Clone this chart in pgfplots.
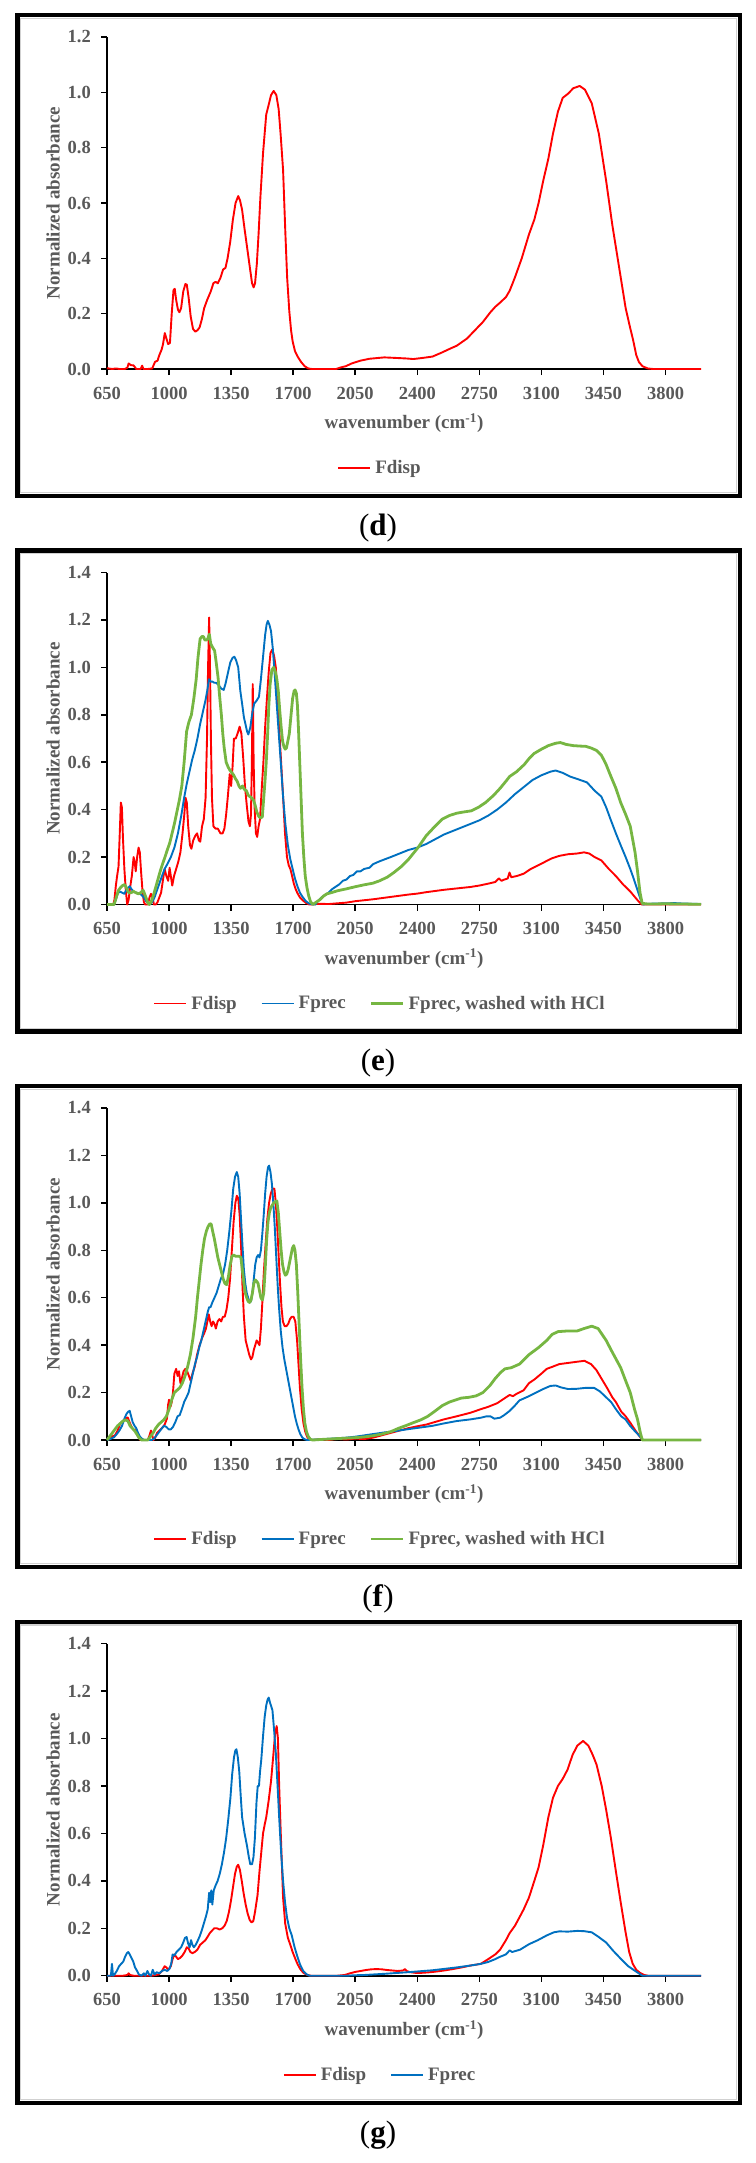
\documentclass[border=0pt]{standalone}
\usepackage{fontspec}
\setmainfont{Liberation Serif}
\usepackage{pgfplots}
\pgfplotsset{compat=1.18}

\definecolor{labgray}{HTML}{595959}
\definecolor{cRed}{RGB}{255,0,0}
\definecolor{cBlue}{RGB}{0,112,192}
\definecolor{cGreen}{RGB}{118,182,66}

\newcommand\tickfont{\fontsize{18.5}{20}\selectfont\bfseries}
\newcommand\labfont{\fontsize{19}{22}\selectfont\bfseries}
\newcommand\capfont{\fontsize{31}{34}\selectfont}

\pgfplotsset{
  panel/.style={
    scale only axis, width=594pt, height=332pt,
    anchor=south west,
    xmin=650, xmax=4000, ymin=0,
    axis x line=bottom, axis y line=left,
    axis line style={-, line width=1.8pt, black},
    tick align=outside, major tick length=6pt,
    tick style={line width=1.5pt, black},
    xtick={650,1000,1350,1700,2050,2400,2750,3100,3450,3800},
    xticklabels={650,1000,1350,1700,2050,2400,2750,3100,3450,3800},
    ticklabel style={font=\tickfont, text=labgray},
    xticklabel style={anchor=base, yshift=-24pt},
    yticklabel style={anchor=east, inner sep=0pt, xshift=-10pt},
    xlabel={wavenumber (cm\textsuperscript{-1})},
    ylabel={Normalized absorbance},
    label style={font=\labfont, text=labgray},
    xlabel style={at={(axis description cs:0.5,-0.163)}, anchor=center},
    ylabel style={at={(axis description cs:-0.0909,0.5)}, anchor=center},
    legend style={at={(axis description cs:0.458,-0.298)}, anchor=center,
      draw=none, fill=none, legend columns=-1, font=\labfont, text=labgray,
      nodes={inner sep=0pt},
      /tikz/every odd column/.append style={column sep=4pt},
      /tikz/every even column/.append style={column sep=24pt}},
    legend image code/.code={\draw[##1] (0pt,0pt) -- (32pt,0pt);},
    clip=false,
  },
  fdisp/.style={cRed, line width=1.9pt, line join=round},
  fprec/.style={cBlue, line width=1.9pt, line join=round},
  fhcl/.style={cGreen, line width=2.8pt, line join=round},
}

\begin{document}
\begin{tikzpicture}
\path[use as bounding box] (0pt,0pt) rectangle (755pt,-2163pt);

% ---------- frames and captions ----------
\foreach \T/\B/\C/\L in {15/496/528/d, 550.5/1031.5/1063.5/e, 1086/1567/1599/f, 1621.7/2102.7/2134.7/g}{
  \draw[line width=1.2pt, black!18] (20.8pt,-\T pt-3.3pt) rectangle (736.8pt,-\B pt+3.3pt);
  \draw[line width=4.2pt] (17.5pt,-\T pt) rectangle (740pt,-\B pt);
  \node[font=\capfont, anchor=center] at (378pt,-\C pt) {(\textbf{\L})};
}

% ---------- (d) ----------
\begin{axis}[panel, at={(107pt,-369pt)}, ymax=1.2,
  ytick={0,0.2,0.4,0.6,0.8,1.0,1.2},
  yticklabels={0.0,0.2,0.4,0.6,0.8,1.0,1.2}]
\addplot[fdisp] coordinates {
(650,0.003)(680,0.0)(700,0.002)(720,0.0)(750,0.0)(765,0.005)(772,0.02)(785,0.014)(800,0.013)(815,0.0)(840,0.0)(848,0.012)(856,0.0)(880,0.0)(905,0.002)(921,0.026)(935,0.03)(945,0.05)(958,0.07)(966,0.09)(976,0.13)(985,0.11)(995,0.09)(1005,0.094)(1015,0.2)(1025,0.285)(1032,0.29)(1040,0.25)(1050,0.215)(1058,0.205)(1068,0.22)(1080,0.28)(1092,0.307)(1100,0.305)(1110,0.26)(1122,0.19)(1135,0.145)(1148,0.135)(1160,0.14)(1172,0.15)(1185,0.18)(1198,0.22)(1215,0.25)(1235,0.28)(1250,0.31)(1262,0.315)(1275,0.31)(1290,0.33)(1305,0.36)(1318,0.365)(1330,0.4)(1345,0.46)(1360,0.54)(1375,0.6)(1390,0.625)(1400,0.61)(1412,0.575)(1425,0.51)(1440,0.44)(1455,0.37)(1468,0.31)(1477,0.295)(1485,0.31)(1495,0.38)(1505,0.49)(1515,0.62)(1530,0.78)(1548,0.92)(1560,0.95)(1575,0.99)(1590,1.005)(1605,0.99)(1618,0.94)(1629,0.85)(1643,0.72)(1656,0.49)(1666,0.33)(1678,0.21)(1688,0.14)(1697,0.1)(1710,0.065)(1725,0.045)(1745,0.025)(1765,0.01)(1785,0.002)(1805,0.0)(1850,0.0)(1900,0.0)(1942,0.0)(1970,0.006)(1996,0.01)(2030,0.02)(2078,0.03)(2130,0.037)(2214,0.042)(2280,0.04)(2340,0.038)(2377,0.036)(2430,0.04)(2486,0.045)(2540,0.06)(2590,0.075)(2622,0.084)(2680,0.11)(2731,0.144)(2770,0.17)(2812,0.205)(2840,0.225)(2867,0.24)(2900,0.26)(2921,0.283)(2950,0.33)(2989,0.4)(3030,0.487)(3060,0.54)(3084,0.6)(3110,0.68)(3139,0.76)(3165,0.85)(3193,0.93)(3220,0.98)(3250,0.995)(3280,1.015)(3316,1.023)(3345,1.01)(3384,0.96)(3424,0.85)(3465,0.68)(3500,0.52)(3540,0.36)(3575,0.22)(3600,0.15)(3617,0.105)(3635,0.05)(3650,0.025)(3670,0.01)(3700,0.002)(3730,0)(4000,0)
};
\addlegendentry{Fdisp}
\end{axis}

% ---------- (e) ----------
\begin{axis}[panel, at={(107pt,-904.5pt)}, ymax=1.4,
  ytick={0,0.2,0.4,0.6,0.8,1.0,1.2,1.4},
  yticklabels={0.0,0.2,0.4,0.6,0.8,1.0,1.2,1.4}]
\addplot[fdisp] coordinates {
(650,0)(685,0)(692,0.02)(700,0.08)(707,0.12)(715,0.16)(722,0.3)(728,0.43)(734,0.41)(740,0.28)(748,0.15)(756,0.06)(764,0.0)(772,0.02)(780,0.07)(790,0.12)(800,0.2)(806,0.18)(812,0.14)(820,0.2)(828,0.24)(835,0.22)(842,0.14)(850,0.06)(858,0.01)(866,0)(880,0)(890,0.03)(898,0.045)(906,0.03)(915,0)(925,0)(935,0.01)(945,0.03)(955,0.05)(965,0.1)(975,0.15)(985,0.12)(995,0.1)(1003,0.155)(1010,0.12)(1018,0.08)(1028,0.12)(1040,0.15)(1052,0.18)(1064,0.22)(1076,0.3)(1086,0.38)(1093,0.45)(1100,0.43)(1108,0.33)(1118,0.25)(1126,0.235)(1136,0.27)(1148,0.29)(1158,0.3)(1168,0.27)(1176,0.265)(1186,0.33)(1196,0.36)(1206,0.45)(1214,0.7)(1220,1.0)(1226,1.21)(1231,1.0)(1236,0.7)(1242,0.45)(1250,0.33)(1262,0.32)(1275,0.32)(1290,0.3)(1302,0.3)(1312,0.32)(1322,0.38)(1332,0.46)(1342,0.55)(1350,0.5)(1358,0.58)(1366,0.7)(1376,0.7)(1386,0.72)(1398,0.75)(1408,0.72)(1418,0.62)(1428,0.5)(1438,0.42)(1448,0.35)(1456,0.33)(1462,0.38)(1467,0.6)(1472,0.93)(1477,0.6)(1483,0.4)(1490,0.3)(1497,0.285)(1505,0.33)(1513,0.36)(1522,0.48)(1532,0.6)(1542,0.75)(1552,0.87)(1562,0.98)(1572,1.06)(1582,1.075)(1592,1.05)(1602,1.0)(1612,0.88)(1621,0.74)(1632,0.6)(1643,0.455)(1654,0.3)(1665,0.2)(1675,0.165)(1684,0.15)(1694,0.12)(1703,0.09)(1714,0.065)(1724,0.048)(1738,0.03)(1752,0.019)(1770,0.008)(1790,0)(1850,0.003)(1900,0.002)(1950,0.005)(2000,0.008)(2050,0.014)(2100,0.018)(2150,0.022)(2200,0.027)(2250,0.032)(2300,0.037)(2350,0.042)(2400,0.046)(2450,0.052)(2500,0.057)(2550,0.062)(2600,0.066)(2650,0.07)(2700,0.074)(2750,0.08)(2800,0.088)(2840,0.095)(2860,0.11)(2875,0.1)(2890,0.105)(2910,0.11)(2920,0.135)(2930,0.115)(2960,0.12)(3000,0.13)(3040,0.15)(3080,0.165)(3120,0.18)(3160,0.195)(3200,0.205)(3250,0.212)(3300,0.215)(3340,0.22)(3370,0.215)(3400,0.2)(3438,0.186)(3480,0.15)(3520,0.12)(3560,0.085)(3601,0.055)(3640,0.02)(3665,0)(4000,0)
};
\addlegendentry{Fdisp}
\addplot[fprec] coordinates {
(650,0)(690,0)(700,0.02)(710,0.045)(720,0.055)(735,0.05)(748,0.045)(758,0.06)(768,0.07)(778,0.077)(788,0.065)(800,0.055)(815,0.05)(830,0.048)(845,0.04)(858,0.03)(870,0.015)(882,0.005)(892,0)(905,0.01)(918,0.03)(932,0.06)(946,0.09)(960,0.12)(975,0.15)(990,0.17)(1010,0.2)(1030,0.24)(1050,0.3)(1070,0.38)(1085,0.45)(1100,0.51)(1115,0.56)(1130,0.61)(1145,0.65)(1160,0.7)(1175,0.76)(1190,0.81)(1205,0.86)(1215,0.9)(1225,0.95)(1235,0.94)(1245,0.94)(1255,0.935)(1265,0.935)(1280,0.925)(1295,0.91)(1308,0.905)(1318,0.93)(1330,0.97)(1345,1.02)(1358,1.04)(1368,1.045)(1378,1.03)(1390,1.0)(1402,0.9)(1412,0.847)(1422,0.79)(1431,0.76)(1440,0.73)(1447,0.717)(1458,0.746)(1468,0.8)(1480,0.847)(1494,0.86)(1507,0.876)(1518,0.95)(1529,1.036)(1542,1.138)(1550,1.18)(1557,1.196)(1566,1.18)(1575,1.153)(1585,1.08)(1594,0.99)(1605,0.87)(1616,0.75)(1630,0.6)(1643,0.455)(1656,0.34)(1670,0.25)(1684,0.19)(1697,0.15)(1710,0.11)(1724,0.077)(1738,0.05)(1752,0.033)(1770,0.015)(1790,0.004)(1810,0)(1825,0.0)(1840,0.015)(1860,0.03)(1880,0.04)(1900,0.05)(1920,0.065)(1940,0.075)(1960,0.085)(1980,0.1)(2000,0.105)(2020,0.12)(2040,0.125)(2060,0.14)(2080,0.14)(2100,0.15)(2130,0.155)(2150,0.17)(2180,0.18)(2214,0.19)(2250,0.2)(2300,0.215)(2350,0.23)(2400,0.24)(2450,0.255)(2500,0.275)(2550,0.295)(2600,0.31)(2650,0.325)(2700,0.34)(2750,0.355)(2800,0.375)(2850,0.4)(2900,0.43)(2950,0.465)(3000,0.495)(3050,0.525)(3100,0.545)(3150,0.56)(3180,0.565)(3220,0.555)(3260,0.54)(3300,0.53)(3357,0.515)(3400,0.48)(3438,0.455)(3465,0.41)(3492,0.355)(3520,0.3)(3547,0.25)(3575,0.2)(3601,0.15)(3620,0.11)(3642,0.06)(3660,0.02)(3672,0.0)(3700,0.003)(3750,0.004)(3800,0.005)(3850,0.006)(3900,0.004)(4000,0.002)
};
\addlegendentry{Fprec}
\addplot[fhcl] coordinates {
(650,0)(690,0)(698,0.02)(706,0.04)(715,0.06)(725,0.07)(738,0.08)(750,0.084)(760,0.07)(772,0.05)(786,0.05)(800,0.055)(812,0.05)(827,0.045)(840,0.05)(854,0.06)(862,0.045)(872,0.025)(880,0.008)(888,0)(898,0.01)(908,0.03)(920,0.06)(935,0.1)(950,0.14)(963,0.17)(977,0.2)(990,0.23)(1004,0.26)(1017,0.3)(1030,0.34)(1044,0.39)(1058,0.44)(1072,0.5)(1085,0.6)(1099,0.73)(1112,0.77)(1126,0.8)(1140,0.87)(1153,0.95)(1163,1.04)(1175,1.12)(1185,1.13)(1194,1.13)(1202,1.115)(1210,1.115)(1218,1.12)(1227,1.14)(1235,1.1)(1245,1.085)(1257,1.07)(1266,1.02)(1276,0.96)(1285,0.88)(1295,0.8)(1303,0.72)(1311,0.66)(1322,0.6)(1333,0.58)(1344,0.565)(1355,0.555)(1365,0.545)(1375,0.53)(1384,0.52)(1394,0.5)(1403,0.49)(1414,0.5)(1425,0.485)(1436,0.48)(1447,0.46)(1456,0.455)(1466,0.45)(1476,0.44)(1485,0.42)(1495,0.39)(1507,0.37)(1518,0.365)(1526,0.37)(1534,0.45)(1541,0.52)(1548,0.6)(1556,0.72)(1562,0.83)(1570,0.93)(1580,0.99)(1590,1.0)(1600,0.98)(1608,0.95)(1616,0.9)(1624,0.82)(1632,0.75)(1640,0.69)(1648,0.665)(1655,0.655)(1662,0.66)(1670,0.69)(1678,0.72)(1688,0.8)(1697,0.87)(1705,0.9)(1711,0.905)(1718,0.89)(1724,0.84)(1731,0.72)(1738,0.58)(1745,0.44)(1752,0.3)(1760,0.2)(1768,0.12)(1778,0.07)(1788,0.035)(1798,0.012)(1811,0)(1830,0.01)(1850,0.02)(1870,0.035)(1890,0.045)(1915,0.05)(1950,0.058)(2000,0.066)(2050,0.075)(2100,0.083)(2150,0.09)(2187,0.1)(2230,0.115)(2268,0.135)(2310,0.16)(2350,0.19)(2404,0.24)(2450,0.29)(2500,0.33)(2541,0.36)(2580,0.375)(2622,0.385)(2660,0.39)(2704,0.395)(2745,0.41)(2785,0.43)(2830,0.46)(2867,0.49)(2900,0.52)(2921,0.54)(2960,0.56)(3003,0.59)(3030,0.615)(3057,0.636)(3100,0.655)(3139,0.67)(3180,0.68)(3207,0.683)(3240,0.675)(3280,0.67)(3320,0.668)(3350,0.667)(3380,0.66)(3410,0.65)(3438,0.63)(3465,0.59)(3492,0.54)(3520,0.49)(3547,0.43)(3575,0.38)(3601,0.33)(3628,0.22)(3642,0.14)(3656,0.05)(3668,0.005)(3700,0.002)(3800,0.003)(3900,0.002)(4000,0.001)
};
\addlegendentry{Fprec, washed with HCl}
\end{axis}

% ---------- (f) ----------
\begin{axis}[panel, at={(107pt,-1440pt)}, ymax=1.4,
  ytick={0,0.2,0.4,0.6,0.8,1.0,1.2,1.4},
  yticklabels={0.0,0.2,0.4,0.6,0.8,1.0,1.2,1.4}]
\addplot[fdisp] coordinates {
(650,0)(665,0.005)(680,0.015)(695,0.02)(710,0.04)(725,0.07)(740,0.08)(755,0.09)(767,0.095)(780,0.07)(792,0.05)(805,0.04)(815,0.045)(825,0.02)(835,0.002)(850,0)(880,0)(890,0.02)(898,0.04)(905,0.02)(912,0)(922,0.01)(932,0.03)(945,0.04)(960,0.05)(975,0.065)(988,0.09)(995,0.15)(1000,0.17)(1008,0.14)(1015,0.16)(1022,0.2)(1030,0.28)(1040,0.3)(1048,0.27)(1056,0.29)(1064,0.24)(1072,0.26)(1082,0.29)(1092,0.3)(1102,0.29)(1112,0.27)(1122,0.25)(1132,0.28)(1145,0.31)(1158,0.36)(1172,0.4)(1186,0.43)(1198,0.45)(1208,0.47)(1216,0.5)(1224,0.53)(1232,0.5)(1240,0.48)(1248,0.5)(1256,0.49)(1264,0.47)(1274,0.5)(1284,0.51)(1294,0.5)(1304,0.52)(1314,0.52)(1324,0.55)(1334,0.6)(1344,0.68)(1354,0.8)(1364,0.92)(1374,1.0)(1382,1.03)(1390,1.02)(1398,0.95)(1406,0.82)(1414,0.65)(1422,0.52)(1432,0.42)(1442,0.39)(1452,0.36)(1462,0.34)(1470,0.35)(1478,0.38)(1486,0.4)(1494,0.42)(1502,0.41)(1510,0.4)(1518,0.47)(1526,0.58)(1534,0.7)(1544,0.82)(1554,0.93)(1564,1.0)(1574,1.04)(1584,1.06)(1594,1.06)(1602,1.0)(1610,0.9)(1618,0.78)(1626,0.66)(1634,0.56)(1642,0.5)(1652,0.48)(1662,0.48)(1672,0.49)(1682,0.51)(1692,0.52)(1702,0.52)(1712,0.5)(1722,0.42)(1730,0.32)(1738,0.22)(1748,0.13)(1758,0.07)(1768,0.035)(1778,0.015)(1790,0.002)(1810,0)(1850,0.003)(1900,0.0)(1950,0.005)(2000,0.002)(2050,0.006)(2100,0.004)(2150,0.01)(2200,0.02)(2250,0.03)(2300,0.04)(2350,0.05)(2400,0.058)(2450,0.065)(2486,0.073)(2550,0.087)(2622,0.1)(2700,0.115)(2758,0.13)(2800,0.14)(2850,0.155)(2880,0.17)(2900,0.18)(2921,0.19)(2940,0.185)(2960,0.195)(3000,0.21)(3030,0.24)(3060,0.255)(3100,0.28)(3130,0.3)(3166,0.31)(3200,0.32)(3250,0.325)(3300,0.33)(3343,0.334)(3380,0.32)(3410,0.295)(3438,0.26)(3470,0.22)(3500,0.18)(3520,0.16)(3550,0.12)(3575,0.1)(3601,0.073)(3630,0.04)(3655,0.015)(3669,0)(4000,0)
};
\addlegendentry{Fdisp}
\addplot[fprec] coordinates {
(650,0)(670,0.005)(690,0.012)(705,0.025)(720,0.04)(735,0.06)(748,0.09)(760,0.11)(770,0.12)(778,0.123)(786,0.1)(795,0.075)(805,0.06)(815,0.05)(825,0.03)(835,0.015)(848,0.005)(860,0)(900,0)(915,0.005)(930,0.02)(945,0.035)(960,0.05)(972,0.06)(985,0.055)(998,0.045)(1010,0.045)(1022,0.055)(1035,0.075)(1048,0.1)(1060,0.105)(1072,0.13)(1085,0.16)(1098,0.18)(1110,0.2)(1122,0.24)(1134,0.28)(1146,0.32)(1158,0.35)(1170,0.39)(1182,0.42)(1194,0.46)(1206,0.5)(1218,0.54)(1226,0.56)(1234,0.56)(1244,0.58)(1256,0.6)(1268,0.62)(1280,0.65)(1292,0.68)(1304,0.7)(1316,0.74)(1328,0.8)(1340,0.88)(1352,0.97)(1362,1.06)(1372,1.11)(1382,1.13)(1390,1.11)(1398,1.04)(1406,0.93)(1414,0.82)(1422,0.72)(1430,0.66)(1438,0.62)(1446,0.6)(1454,0.58)(1462,0.585)(1470,0.62)(1478,0.68)(1486,0.74)(1494,0.77)(1502,0.78)(1510,0.77)(1518,0.8)(1526,0.87)(1534,0.95)(1542,1.04)(1550,1.11)(1558,1.15)(1564,1.157)(1572,1.13)(1580,1.08)(1588,1.0)(1596,0.9)(1604,0.78)(1612,0.66)(1620,0.56)(1630,0.46)(1640,0.39)(1650,0.34)(1660,0.3)(1670,0.26)(1680,0.22)(1690,0.18)(1700,0.14)(1710,0.1)(1720,0.07)(1730,0.045)(1740,0.025)(1752,0.01)(1765,0.003)(1780,0)(1850,0.003)(1900,0.005)(1942,0.007)(2000,0.01)(2050,0.014)(2078,0.017)(2150,0.025)(2214,0.032)(2280,0.038)(2350,0.046)(2420,0.053)(2486,0.06)(2550,0.07)(2622,0.08)(2700,0.087)(2758,0.094)(2790,0.1)(2812,0.1)(2835,0.09)(2850,0.092)(2867,0.094)(2890,0.105)(2921,0.123)(2950,0.145)(2976,0.167)(3000,0.175)(3030,0.185)(3070,0.2)(3110,0.215)(3150,0.228)(3180,0.23)(3210,0.222)(3250,0.215)(3300,0.216)(3350,0.22)(3397,0.22)(3430,0.205)(3465,0.18)(3493,0.16)(3520,0.13)(3550,0.1)(3574,0.087)(3600,0.06)(3630,0.035)(3656,0.015)(3672,0)(4000,0)
};
\addlegendentry{Fprec}
\addplot[fhcl] coordinates {
(650,0)(665,0.015)(680,0.03)(695,0.045)(710,0.06)(725,0.07)(740,0.08)(755,0.085)(768,0.08)(780,0.06)(792,0.05)(805,0.04)(818,0.025)(830,0.01)(845,0)(880,0)(895,0.015)(910,0.03)(925,0.05)(940,0.065)(955,0.075)(970,0.085)(985,0.1)(1000,0.13)(1015,0.17)(1030,0.2)(1045,0.21)(1060,0.22)(1075,0.24)(1090,0.27)(1105,0.31)(1120,0.36)(1135,0.43)(1150,0.52)(1160,0.6)(1170,0.67)(1180,0.74)(1190,0.8)(1200,0.85)(1210,0.88)(1220,0.9)(1230,0.912)(1238,0.91)(1246,0.88)(1255,0.85)(1265,0.81)(1275,0.77)(1285,0.74)(1295,0.71)(1305,0.68)(1315,0.66)(1325,0.655)(1335,0.69)(1345,0.74)(1355,0.775)(1365,0.78)(1375,0.775)(1385,0.775)(1395,0.775)(1405,0.77)(1413,0.72)(1422,0.66)(1430,0.62)(1438,0.6)(1446,0.585)(1454,0.58)(1462,0.59)(1470,0.62)(1478,0.66)(1486,0.675)(1494,0.67)(1502,0.66)(1510,0.63)(1518,0.6)(1526,0.59)(1534,0.62)(1542,0.72)(1550,0.84)(1558,0.92)(1566,0.96)(1574,0.98)(1582,0.99)(1590,1.0)(1600,1.005)(1608,1.008)(1616,0.96)(1624,0.88)(1632,0.8)(1640,0.74)(1648,0.71)(1656,0.695)(1664,0.7)(1672,0.72)(1680,0.75)(1688,0.78)(1696,0.81)(1703,0.82)(1710,0.8)(1718,0.74)(1726,0.62)(1734,0.48)(1742,0.34)(1750,0.22)(1758,0.13)(1766,0.07)(1775,0.035)(1785,0.015)(1797,0.003)(1810,0)(1850,0.002)(1900,0.004)(1950,0.006)(2000,0.008)(2050,0.01)(2100,0.013)(2150,0.018)(2200,0.025)(2250,0.035)(2296,0.05)(2340,0.062)(2377,0.073)(2420,0.085)(2459,0.1)(2500,0.122)(2541,0.145)(2580,0.16)(2620,0.17)(2649,0.177)(2690,0.18)(2731,0.186)(2770,0.2)(2810,0.23)(2840,0.26)(2870,0.285)(2894,0.3)(2930,0.305)(2976,0.32)(3030,0.36)(3084,0.39)(3130,0.42)(3160,0.445)(3193,0.457)(3250,0.46)(3302,0.46)(3340,0.47)(3384,0.48)(3420,0.47)(3465,0.42)(3500,0.37)(3547,0.305)(3575,0.25)(3601,0.2)(3625,0.13)(3642,0.087)(3658,0.03)(3669,0)(4000,0)
};
\addlegendentry{Fprec, washed with HCl}
\end{axis}

% ---------- (g) ----------
\begin{axis}[panel, at={(107pt,-1975.7pt)}, ymax=1.4,
  ytick={0,0.2,0.4,0.6,0.8,1.0,1.2,1.4},
  yticklabels={0.0,0.2,0.4,0.6,0.8,1.0,1.2,1.4}]
\addplot[fdisp] coordinates {
(650,0)(700,0)(740,0)(765,0.003)(772,0.01)(780,0.003)(800,0)(900,0)(940,0.005)(960,0.02)(975,0.04)(985,0.035)(995,0.025)(1010,0.04)(1020,0.07)(1030,0.09)(1040,0.08)(1050,0.07)(1062,0.075)(1075,0.085)(1088,0.1)(1100,0.12)(1110,0.115)(1120,0.1)(1132,0.095)(1145,0.1)(1160,0.11)(1175,0.13)(1190,0.14)(1205,0.15)(1218,0.165)(1230,0.18)(1242,0.19)(1255,0.2)(1270,0.2)(1285,0.195)(1300,0.2)(1312,0.21)(1325,0.23)(1338,0.27)(1350,0.32)(1362,0.38)(1372,0.43)(1382,0.46)(1390,0.468)(1400,0.445)(1410,0.4)(1420,0.35)(1432,0.3)(1444,0.26)(1455,0.235)(1465,0.225)(1475,0.23)(1485,0.27)(1499,0.34)(1510,0.44)(1520,0.52)(1530,0.6)(1540,0.64)(1548,0.668)(1562,0.74)(1575,0.82)(1588,0.93)(1598,1.02)(1607,1.053)(1614,1.0)(1621,0.8)(1630,0.6)(1643,0.33)(1655,0.22)(1670,0.16)(1684,0.13)(1697,0.1)(1710,0.075)(1724,0.05)(1740,0.028)(1758,0.012)(1780,0.003)(1800,0)(1950,0)(1990,0.003)(2020,0.01)(2050,0.016)(2080,0.02)(2110,0.024)(2140,0.027)(2170,0.028)(2200,0.027)(2230,0.024)(2260,0.022)(2290,0.02)(2320,0.022)(2330,0.028)(2340,0.02)(2360,0.015)(2390,0.012)(2420,0.012)(2460,0.014)(2500,0.017)(2550,0.022)(2600,0.028)(2650,0.035)(2700,0.043)(2758,0.05)(2800,0.07)(2840,0.09)(2867,0.11)(2900,0.15)(2921,0.18)(2950,0.21)(2976,0.246)(3000,0.28)(3030,0.33)(3060,0.4)(3084,0.457)(3110,0.55)(3139,0.668)(3165,0.75)(3193,0.8)(3220,0.83)(3248,0.87)(3275,0.93)(3302,0.97)(3335,0.99)(3365,0.97)(3390,0.93)(3411,0.89)(3440,0.8)(3465,0.7)(3492,0.58)(3520,0.44)(3547,0.31)(3574,0.186)(3595,0.1)(3615,0.05)(3635,0.025)(3656,0.012)(3680,0.003)(3700,0)(4000,0)
};
\addlegendentry{Fdisp}
\addplot[fprec] coordinates {
(650,0)(672,0)(678,0.05)(684,0.0)(692,0.005)(705,0.02)(718,0.04)(730,0.05)(742,0.06)(752,0.08)(762,0.095)(770,0.1)(778,0.09)(788,0.075)(798,0.06)(808,0.035)(820,0.02)(830,0.005)(845,0)(858,0.01)(866,0.0)(878,0.02)(888,0.005)(898,0)(908,0.025)(918,0.005)(930,0.015)(945,0.01)(960,0.02)(975,0.025)(990,0.02)(1003,0.03)(1012,0.05)(1020,0.09)(1030,0.085)(1042,0.1)(1055,0.11)(1068,0.12)(1080,0.14)(1090,0.16)(1099,0.163)(1108,0.135)(1116,0.12)(1124,0.15)(1132,0.13)(1140,0.12)(1150,0.13)(1160,0.145)(1172,0.165)(1184,0.19)(1196,0.22)(1208,0.25)(1218,0.28)(1226,0.35)(1232,0.31)(1238,0.36)(1244,0.3)(1252,0.36)(1262,0.38)(1274,0.4)(1286,0.43)(1298,0.47)(1310,0.52)(1322,0.58)(1334,0.66)(1346,0.75)(1356,0.85)(1366,0.92)(1374,0.95)(1380,0.955)(1388,0.92)(1396,0.86)(1404,0.76)(1412,0.668)(1426,0.6)(1439,0.55)(1450,0.5)(1458,0.47)(1468,0.47)(1476,0.5)(1484,0.58)(1493,0.73)(1500,0.8)(1507,0.8)(1513,0.86)(1520,0.91)(1530,1.01)(1539,1.09)(1548,1.14)(1556,1.165)(1562,1.173)(1570,1.15)(1583,1.12)(1592,1.04)(1602,0.94)(1612,0.8)(1621,0.668)(1632,0.52)(1643,0.4)(1654,0.31)(1665,0.246)(1678,0.2)(1692,0.17)(1708,0.12)(1724,0.08)(1740,0.045)(1757,0.02)(1775,0.006)(1792,0)(2000,0)(2050,0.002)(2100,0.003)(2214,0.008)(2350,0.015)(2486,0.023)(2622,0.035)(2700,0.043)(2758,0.05)(2800,0.058)(2840,0.07)(2867,0.08)(2900,0.09)(2921,0.107)(2935,0.1)(2948,0.103)(2980,0.11)(3030,0.133)(3080,0.15)(3130,0.17)(3170,0.183)(3200,0.187)(3250,0.186)(3302,0.189)(3340,0.188)(3384,0.183)(3420,0.165)(3465,0.14)(3505,0.105)(3547,0.072)(3590,0.04)(3629,0.02)(3655,0.007)(3670,0)(4000,0)
};
\addlegendentry{Fprec}
\end{axis}
\end{tikzpicture}
\end{document}
